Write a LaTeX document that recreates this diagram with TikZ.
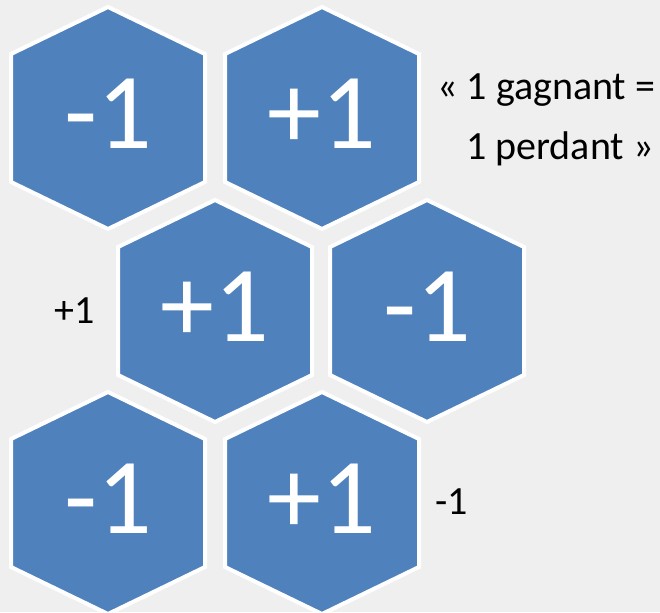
\documentclass[tikz,border=0pt]{standalone}
\usepackage{fontspec}
\setmainfont{Carlito}
\usepackage{tikz}
\usetikzlibrary{positioning}
\usepackage{xcolor}
\definecolor{hexblue}{HTML}{4F81BD}
\definecolor{backgrey}{HTML}{EFEFEF}
\tikzset{
  hexline/.style  = {draw=white, line width=4pt, fill=hexblue, line join=miter},
  hexlabel/.style = {text=white, inner sep=0pt, font=\fontsize{108}{108}\selectfont},
  sidenote/.style = {text=black, inner sep=0pt, font=\fontsize{40}{40}\selectfont},
}
% one cell: name, centre x, centre y, value
\newcommand{\hexcell}[4]{%
  \draw[hexline] (#2,#3) ++(0,-111) -- ++(97,47) -- ++(0,128) -- ++(-97,47)
     -- ++(-97,-47) -- ++(0,-128) -- cycle;
  \node[hexlabel] (#1) at (#2,#3-4) {#4};}

\begin{document}
\begin{tikzpicture}[x=1pt, y=-1pt]
\useasboundingbox (0,0) rectangle (660,612);
\fill[backgrey] (0,0) rectangle (660,612);
% ---- the six cells ----
\hexcell{ca}{108}{118}{-1}
\hexcell{cb}{322}{118}{+1}
\hexcell{cc}{215}{311}{+1}
\hexcell{cd}{427}{311}{-1}
\hexcell{ce}{108}{503}{-1}
\hexcell{cf}{322}{503}{+1}
% ---- side notes ----
\node[sidenote, anchor=base west] (rulea) at (437,100) {« 1 gagnant =};
\node[sidenote, anchor=base west] (ruleb) at (466,160) {1 perdant »};
\node[sidenote] (leftnote) at (75,311) {+1};
\node[sidenote] (rightnote) at (452,502) {-1};
\end{tikzpicture}
\end{document}
